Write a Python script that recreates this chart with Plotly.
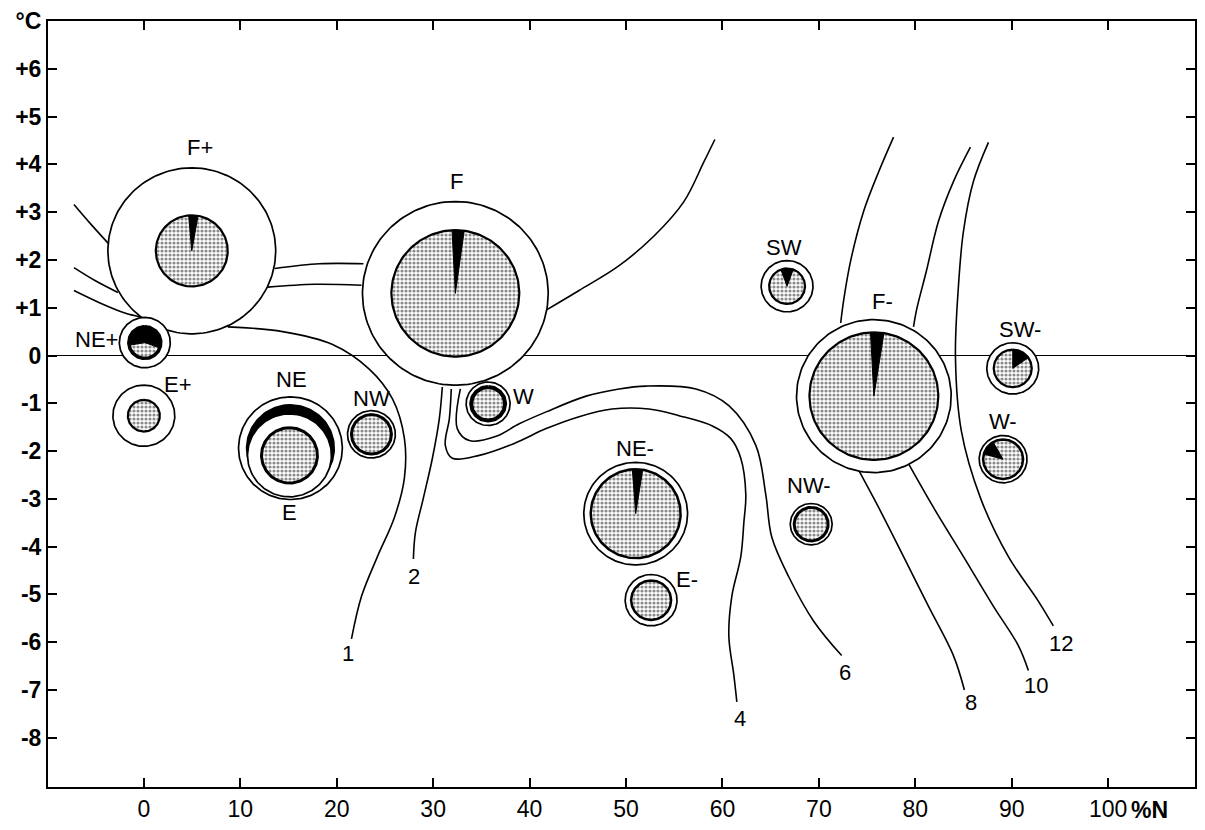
import numpy as np
import plotly.graph_objects as go

# ---------------- axes ----------------
X_RANGE = [-9.94, 109.0]
Y_RANGE = [-9.03, 7.0]
x_tickvals = [0, 10, 20, 30, 40, 50, 60, 70, 80, 90, 100]
x_ticktext = ["0", "10", "20", "30", "40", "50", "60", "70", "80", "90", "100"]
y_tickvals = [-8, -7, -6, -5, -4, -3, -2, -1, 0, 1, 2, 3, 4, 5, 6, 7]
y_ticktext = ["-8", "-7", "-6", "-5", "-4", "-3", "-2", "-1", "0",
              "+1", "+2", "+3", "+4", "+5", "+6", "°C"]

# ---------------- circles (wind-type groups) ----------------
names = ["F+", "NE+", "E+", "NE", "E", "NW", "F", "W", "NE-", "E-",
         "SW", "NW-", "F-", "SW-", "W-"]
cx = [4.97, 0.1, 0.0, 15.2, 15.1, 23.6, 32.3, 35.7, 51.0, 52.6,
      66.7, 69.2, 75.7, 90.1, 89.1]
cy = [2.19, 0.27, -1.26, -1.94, -2.09, -1.65, 1.30, -1.01, -3.31, -5.12,
      1.45, -3.53, -0.85, -0.27, -2.17]
outer_r = [8.70, 2.64, 3.21, 5.38, 4.35, 2.48, 9.63, 2.28, 5.38, 2.69,
           2.69, 2.17, 8.02, 2.69, 2.48]
inner_r = [3.73, 1.66, 1.66, 4.55, 2.90, 2.07, 6.63, 1.76, 4.66, 2.07,
           1.86, 1.76, 6.68, 1.97, 2.07]
# black sector, degrees clockwise from north
wedge_start = [-5, -100, 0, 0, 0, 0, -3, 0, -5, 0, -20, 0, -3, 0, -75]
wedge_end = [10, 110, 0, 360, 0, 0, 8, 0, 9, 0, 20, 0, 9, 55, -30]
label_x = [5.80, -4.87, 3.52, 15.32, 15.11, 23.60, 32.40, 39.34, 50.93, 56.31,
           66.36, 68.94, 76.60, 90.89, 89.13]
label_y = [4.36, 0.33, -0.60, -0.50, -3.29, -0.91, 3.64, -0.85, -1.94, -4.69,
           2.27, -2.71, 1.12, 0.54, -1.38]

# ---------------- isolines ----------------
line_left_a_x = [-7.25, -5.59, -3.62]
line_left_a_y = [3.16, 2.77, 2.33]
line_left_b_x = [-7.25, -5.07, -2.69]
line_left_b_y = [1.84, 1.57, 1.32]
line_left_c_x = [-7.25, -4.55, -1.97, -0.41]
line_left_c_y = [1.36, 1.10, 0.89, 0.81]
line_mid_a_x = [13.56, 18.22, 22.77]
line_mid_a_y = [1.82, 1.92, 1.92]
line_mid_b_x = [12.84, 17.70, 22.57]
line_mid_b_y = [1.43, 1.49, 1.47]
line1_x = [8.70, 14.39, 19.57, 23.40, 25.78, 27.02, 27.02, 25.98, 24.22, 22.57, 21.53]
line1_y = [0.60, 0.50, 0.23, -0.29, -0.91, -1.74, -2.56, -3.39, -4.21, -5.04, -5.93]
line2_x = [30.95, 30.64, 29.92, 28.99, 28.16, 27.95]
line2_y = [-0.66, -1.32, -2.15, -2.98, -3.70, -4.26]
line4_x = [31.88, 31.68, 31.26, 31.99, 34.78, 38.41, 41.72, 45.13, 48.55, 52.38, 55.49,
           58.90, 60.87, 61.90, 62.42, 62.22, 61.90, 60.97, 60.66, 61.18, 61.49]
line4_y = [-0.70, -1.32, -1.88, -2.15, -2.09, -1.84, -1.53, -1.28, -1.12, -1.12, -1.26,
           -1.47, -1.74, -2.15, -2.91, -3.49, -4.21, -5.04, -5.87, -6.69, -7.25]
line6_x = [32.82, 32.50, 33.75, 36.54, 38.92, 41.72, 45.86, 49.28, 52.07, 57.25, 60.66,
           63.46, 64.49, 65.11, 66.87, 69.46, 72.36]
line6_y = [-0.70, -1.53, -1.78, -1.69, -1.43, -1.18, -0.85, -0.70, -0.64, -0.70, -1.05,
           -1.88, -2.91, -3.80, -4.63, -5.56, -6.28]
line_fr_x = [41.72, 45.13, 49.28, 52.90, 56.00, 58.07, 59.21]
line_fr_y = [0.95, 1.36, 1.88, 2.50, 3.22, 4.05, 4.52]
line8u_x = [77.74, 76.19, 74.64, 73.29, 72.57, 72.26]
line8u_y = [4.57, 3.84, 3.02, 1.98, 1.16, 0.68]
line8l_x = [74.12, 76.19, 78.78, 81.37, 83.95, 85.09]
line8l_y = [-2.40, -3.18, -4.21, -5.25, -6.28, -7.00]
line10u_x = [85.71, 83.95, 82.40, 81.16, 80.12, 79.81]
line10u_y = [4.36, 3.64, 2.81, 1.78, 0.95, 0.60]
line10l_x = [79.30, 81.88, 84.99, 88.10, 90.68, 91.72]
line10l_y = [-2.27, -3.18, -4.21, -5.25, -6.07, -6.59]
line12_x = [87.58, 86.02, 84.99, 84.47, 84.16, 84.78, 86.75, 89.65, 92.75, 94.31]
line12_y = [4.46, 3.64, 2.60, 1.45, -0.04, -1.59, -2.98, -4.21, -5.14, -5.66]

iso_labels = ["1", "2", "4", "6", "8", "10", "12"]
iso_label_x = [21.12, 28.05, 61.80, 72.67, 85.82, 92.55, 95.13]
iso_label_y = [-6.24, -4.63, -7.60, -6.63, -7.27, -6.90, -6.03]

# ---------------- figure ----------------
W, H = 1205, 830
M = dict(l=48, r=8, t=17, b=37)
pw = W - M["l"] - M["r"]
ph = H - M["t"] - M["b"]
kx = pw / (X_RANGE[1] - X_RANGE[0])
ky = ph / (Y_RANGE[1] - Y_RANGE[0])
asp = kx / ky

FONT = "Liberation Sans"


def arc(x0, y0, r, a0=0.0, a1=360.0, sector=False, n=160):
    t = np.radians(np.linspace(a0, a1, n))
    xs = x0 + r * np.sin(t)
    ys = y0 + r * np.cos(t) * asp
    if sector:
        xs = np.r_[x0, xs, x0]
        ys = np.r_[y0, ys, y0]
    return xs, ys


fig = go.Figure()

iso_lines = [
    (line_left_a_x, line_left_a_y), (line_left_b_x, line_left_b_y),
    (line_left_c_x, line_left_c_y), (line_mid_a_x, line_mid_a_y),
    (line_mid_b_x, line_mid_b_y), (line1_x, line1_y), (line2_x, line2_y),
    (line4_x, line4_y), (line6_x, line6_y), (line_fr_x, line_fr_y),
    (line8u_x, line8u_y), (line8l_x, line8l_y), (line10u_x, line10u_y),
    (line10l_x, line10l_y), (line12_x, line12_y),
]
for lx, ly in iso_lines:
    fig.add_trace(go.Scatter(x=lx, y=ly, mode="lines",
                             line=dict(color="black", width=1.6, shape="spline", smoothing=1.0),
                             hoverinfo="skip", showlegend=False))

thick = {"NE+": 3.5, "W": 4, "NW": 3, "W-": 2.5, "E": 3, "NE-": 2.5, "E-": 2.5, "NW-": 3}

for i, nm in enumerate(names):
    xs, ys = arc(cx[i], cy[i], outer_r[i])
    fig.add_trace(go.Scatter(x=xs, y=ys, mode="lines", fill="toself", fillcolor="white",
                             line=dict(color="black", width=1.7),
                             hoverinfo="skip", showlegend=False))
    full_black = (wedge_end[i] - wedge_start[i]) >= 360
    xs, ys = arc(cx[i], cy[i], inner_r[i])
    if full_black:
        fig.add_trace(go.Scatter(x=xs, y=ys, mode="lines", fill="toself", fillcolor="black",
                                 line=dict(color="black", width=1.5),
                                 hoverinfo="skip", showlegend=False))
        continue
    fig.add_trace(go.Scatter(x=xs, y=ys, mode="lines", fill="toself", fillcolor="white",
                             fillpattern=dict(shape=".", fgcolor="#1a1a1a", bgcolor="#ffffff",
                                              size=4, solidity=0.5),
                             line=dict(color="black", width=thick.get(nm, 2.2)),
                             hoverinfo="skip", showlegend=False))
    if wedge_end[i] != wedge_start[i]:
        xs, ys = arc(cx[i], cy[i], inner_r[i], wedge_start[i], wedge_end[i], sector=True, n=40)
        fig.add_trace(go.Scatter(x=xs, y=ys, mode="lines", fill="toself", fillcolor="black",
                                 line=dict(color="black", width=1),
                                 hoverinfo="skip", showlegend=False))

annotations = []
for i, nm in enumerate(names):
    annotations.append(dict(x=label_x[i], y=label_y[i], xref="x", yref="y", text=nm,
                            showarrow=False,
                            font=dict(family=FONT, size=22, color="black", weight=500)))
for t, lx, ly in zip(iso_labels, iso_label_x, iso_label_y):
    annotations.append(dict(x=lx, y=ly, xref="x", yref="y", text=t, showarrow=False,
                            font=dict(family=FONT, size=22, color="black")))
annotations.append(dict(x=102.2, y=-9.03, xref="x", yref="y", text="%N",
                        xanchor="left", yanchor="top", yshift=-8, showarrow=False,
                        font=dict(family=FONT, size=23, color="black", weight="bold")))

fig.update_layout(
    width=W, height=H, margin=M,
    paper_bgcolor="white", plot_bgcolor="white",
    showlegend=False, annotations=annotations,
    xaxis=dict(range=X_RANGE, tickvals=x_tickvals, ticktext=x_ticktext,
               showgrid=False, zeroline=False, showline=True, linecolor="black",
               linewidth=2, mirror="ticks", ticks="inside", ticklen=9, tickwidth=1.5,
               tickcolor="black",
               tickfont=dict(family=FONT, size=23, color="black", weight=500)),
    yaxis=dict(range=Y_RANGE, tickvals=y_tickvals, ticktext=y_ticktext,
               showgrid=False, zeroline=True, zerolinecolor="black", zerolinewidth=1.2,
               showline=True, linecolor="black", linewidth=2, mirror="ticks",
               ticks="inside", ticklen=9, tickwidth=1.5, tickcolor="black",
               tickfont=dict(family=FONT, size=23, color="black", weight="bold")),
)

fig.write_html("out.html")
